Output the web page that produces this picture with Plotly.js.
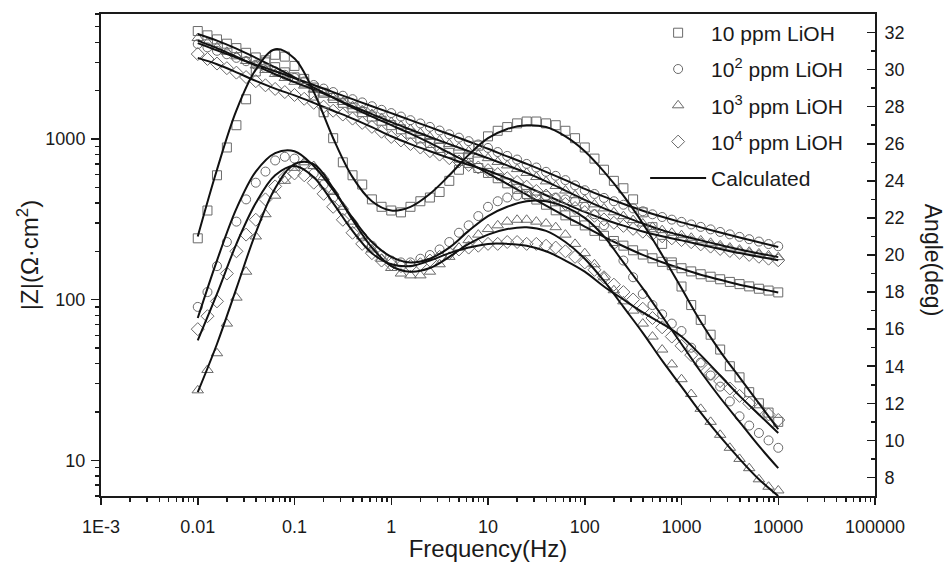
<!DOCTYPE html>
<html>
<head>
<meta charset="utf-8">
<script src="https://cdn.plot.ly/plotly-3.0.1.min.js"></script>
<style>html,body{margin:0;padding:0;background:#fff;}#chart{width:945px;height:562px;}</style>
</head>
<body>
<div id="chart"></div>
<script>
// ---- measured frequencies (Hz) ----
const freq = [0.01,0.0126,0.0158,0.02,0.0251,0.0316,0.0398,0.0501,0.0631,0.0794,
  0.1,0.126,0.158,0.2,0.251,0.316,0.398,0.501,0.631,0.794,
  1,1.26,1.58,2,2.51,3.16,3.98,5.01,6.31,7.94,
  10,12.6,15.8,20,25.1,31.6,39.8,50.1,63.1,79.4,
  100,126,158,200,251,316,398,501,631,794,
  1000,1260,1580,2000,2510,3160,3980,5010,6310,7940,10000];

// ---- |Z| (Ohm cm2), measured ----
const zMod10 = [4700,4420,4170,3920,3680,3440,3220,3000,2800,2600,
  2420,2250,2090,1940,1800,1680,1570,1470,1380,1300,
  1220,1150,1080,1010,945,880,820,765,710,660,
  615,570,530,490,455,420,390,360,335,310,
  290,268,250,232,217,203,191,181,172,164,
  157,150,144,139,134,129,125,121,117,114,111];
const zMod100 = [3900,3720,3540,3370,3200,3050,2900,2770,2640,2510,
  2400,2280,2170,2060,1960,1860,1770,1690,1600,1520,
  1450,1380,1310,1250,1190,1130,1070,1020,970,925,
  880,830,785,745,700,665,625,590,555,515,
  480,455,430,410,390,370,355,340,327,315,
  305,294,284,274,264,255,246,238,230,222,215];
const zMod1000 = [4250,3980,3730,3490,3270,3060,2870,2690,2540,2400,
  2270,2150,2030,1920,1810,1700,1600,1510,1430,1350,
  1275,1210,1150,1090,1030,980,930,885,840,800,
  760,720,685,650,615,580,545,510,478,447,
  418,392,370,350,331,313,298,284,271,261,
  252,243,234,226,218,211,205,199,194,189,184];
const zMod10000 = [3380,3150,2950,2760,2590,2430,2290,2160,2050,1960,
  1880,1780,1680,1590,1500,1420,1340,1260,1190,1110,
  1030,980,930,885,840,800,760,725,690,665,
  640,605,570,540,505,475,445,420,395,372,
  351,333,316,301,288,276,265,256,248,241,
  235,228,221,214,207,201,196,190,185,180,176];

// ---- phase angle (deg), measured ----
const ang10 = [20.9,22.4,24.3,25.8,27.0,28.4,29.9,30.5,30.8,30.7,
  30.2,29.5,28.6,27.7,26.3,25.0,24.3,23.8,23.0,22.6,
  22.4,22.3,22.6,22.9,23.1,23.4,24.0,24.6,25.3,25.9,
  26.4,26.7,26.9,27.1,27.2,27.2,27.1,27.0,26.7,26.3,
  25.8,25.2,24.6,24.0,23.6,23.0,22.3,21.5,20.6,19.6,
  18.3,17.3,16.5,15.7,14.9,14.0,13.4,12.6,12.0,11.5,11.0];
const ang100 = [17.2,18.0,19.4,20.7,21.8,23.0,23.9,24.5,25.1,25.3,
  25.2,24.9,24.4,23.8,23.1,22.4,21.7,21.0,20.5,20.0,
  19.7,19.6,19.6,19.8,20.0,20.3,20.7,21.2,21.6,22.1,
  22.6,22.9,23.1,23.2,23.2,23.2,23.2,23.1,23.0,22.9,
  22.6,22.2,21.6,20.6,19.7,18.8,17.9,17.3,16.8,16.3,
  15.9,15.0,14.2,13.5,12.9,12.1,11.3,10.8,10.4,10.0,9.6];
const ang1000 = [12.7,13.8,14.7,16.3,17.7,19.1,21.0,22.2,23.2,24.0,
  24.7,25.0,24.8,24.2,23.4,22.6,21.8,21.0,20.3,19.8,
  19.3,19.0,18.9,18.9,19.1,19.5,19.9,20.4,20.8,21.1,
  21.4,21.6,21.8,21.9,21.9,21.8,21.7,21.5,21.1,20.6,
  20.1,19.5,18.8,18.1,17.5,17.0,16.3,15.6,14.9,14.1,
  13.3,12.5,11.7,11.0,10.3,9.6,9.0,8.5,7.9,7.5,7.3];
const ang10000 = [16.0,16.7,17.5,19.0,20.2,21.1,21.9,23.0,23.7,24.2,
  24.4,24.3,23.9,23.3,22.6,21.9,21.2,20.6,20.1,19.7,
  19.5,19.4,19.4,19.5,19.7,19.9,20.1,20.3,20.4,20.5,
  20.6,20.6,20.7,20.7,20.6,20.6,20.5,20.4,20.2,19.9,
  19.6,19.2,18.8,18.4,18.0,17.6,17.1,16.6,16.1,15.6,
  15.1,14.6,14.1,13.6,13.2,12.8,12.4,12.0,11.7,11.4,11.1];

// ---- calculated (fitted) curves ----
const fitFreq = [0.01,0.0158,0.0251,0.0398,0.0631,0.1,0.158,0.251,0.398,0.631,
  1,1.58,2.51,3.98,6.31,10,15.8,25.1,39.8,63.1,
  100,158,251,398,631,1000,1580,2510,3980,6310,10000];
const zFit10 = [4500,4100,3650,3200,2790,2420,2090,1810,1570,1380,
  1220,1080,945,820,710,612,525,450,385,330,
  285,246,215,190,171,156,143,133,124,117,111];
const zFit100 = [3950,3560,3210,2900,2640,2390,2170,1960,1770,1600,
  1450,1310,1185,1070,965,870,780,700,625,555,
  490,438,395,358,328,303,282,262,244,228,213];
const zFit1000 = [4100,3680,3250,2860,2530,2260,2030,1810,1600,1430,
  1275,1145,1030,930,840,760,685,615,545,478,
  418,370,331,298,271,251,234,219,205,194,184];
const zFit10000 = [3200,2920,2600,2300,2060,1870,1680,1500,1340,1185,
  1040,930,840,760,690,635,570,505,447,396,
  352,317,289,266,248,234,220,207,195,185,176];
const aFit10 = [21.0,24.6,27.8,30.0,31.1,30.6,28.8,26.3,24.2,22.9,
  22.4,22.6,23.3,24.3,25.4,26.3,26.8,27.0,26.9,26.4,
  25.6,24.5,23.2,21.7,20.0,18.2,16.4,14.8,13.4,12.0,10.6];
const aFit100 = [16.6,19.7,22.5,24.5,25.5,25.6,24.8,23.5,22.0,20.7,
  19.9,19.6,19.8,20.4,21.3,22.1,22.6,22.9,22.9,22.6,
  22.0,21.0,19.6,18.2,16.7,15.2,13.7,12.3,11.0,9.7,8.5];
const aFit1000 = [12.6,15.2,18.2,21.2,23.6,24.9,24.9,23.6,21.9,20.4,
  19.4,19.1,19.3,19.9,20.6,21.1,21.4,21.5,21.3,20.7,
  19.8,18.6,17.2,15.8,14.3,12.9,11.5,10.2,9.0,7.9,7.0];
const aFit10000 = [15.4,17.9,20.6,22.8,24.3,24.8,24.2,22.8,21.3,20.1,
  19.5,19.4,19.7,20.1,20.4,20.6,20.6,20.5,20.2,19.7,
  19.1,18.3,17.6,16.9,16.3,15.6,14.6,13.5,12.4,11.4,10.4];

// ---- labels ----
const seriesNames = ['10 ppm LiOH','10<sup>2</sup> ppm LiOH','10<sup>3</sup> ppm LiOH','10<sup>4</sup> ppm LiOH'];
const fitName = 'Calculated';
const xTickVals = [0.001,0.01,0.1,1,10,100,1000,10000,100000];
const xTickText = ['1E-3','0.01','0.1','1','10','100','1000','10000','100000'];
const yTickVals = [10,100,1000];
const yTickText = ['10','100','1000'];
const xTitle = 'Frequency(Hz)';
const yTitle = '|Z|(\u03A9\u00B7cm<sup>2</sup>)';
const y2Title = 'Angle(deg)';

// ---- build ----
const symbols = ['square-open','circle-open','triangle-up-open','diamond-open'];
const markerSizes = [9,9,10,10];
const mColor = '#6a6a6a';
const zData = [zMod10, zMod100, zMod1000, zMod10000];
const aData = [ang10, ang100, ang1000, ang10000];
const zFits = [zFit10, zFit100, zFit1000, zFit10000];
const aFits = [aFit10, aFit100, aFit1000, aFit10000];

const traces = [];
for (let i = 0; i < 4; i++) {
  traces.push({x: freq, y: zData[i], type:'scatter', mode:'markers', name: seriesNames[i],
    legendgroup:'g'+i, legendrank: i+1, showlegend:true, yaxis:'y',
    marker:{symbol:symbols[i], size:markerSizes[i], color:mColor, line:{width:1, color:mColor}}});
  traces.push({x: freq, y: aData[i], type:'scatter', mode:'markers', name: seriesNames[i],
    legendgroup:'g'+i, showlegend:false, yaxis:'y2',
    marker:{symbol:symbols[i], size:markerSizes[i], color:mColor, line:{width:1, color:mColor}}});
}
for (let i = 0; i < 4; i++) {
  traces.push({x: fitFreq, y: zFits[i], type:'scatter', mode:'lines', name: fitName,
    legendgroup:'fit', legendrank: 5, showlegend: i === 0, yaxis:'y',
    line:{color:'#111', width:2, shape:'spline', smoothing:1}});
  traces.push({x: fitFreq, y: aFits[i], type:'scatter', mode:'lines', name: fitName,
    legendgroup:'fit', showlegend:false, yaxis:'y2',
    line:{color:'#111', width:2, shape:'spline', smoothing:1}});
}

const xMinor = [];
for (let d = -3; d < 5; d++) for (let k = 2; k <= 9; k++) xMinor.push(k * Math.pow(10, d));
const yMinor = [];
for (let d = 0; d < 4; d++) for (let k = 2; k <= 9; k++) { const v = k * Math.pow(10, d); if (v >= 6 && v <= 6000) yMinor.push(v); }

const axisColor = '#1a1a1a';
const layout = {
  width: 945, height: 562,
  margin: {l:101, r:70, t:14, b:66, pad:0},
  paper_bgcolor:'#fff', plot_bgcolor:'#fff',
  font: {family:'"Liberation Sans", Arial, sans-serif', color:'#1a1a1a', size:18},
  showlegend: true,
  xaxis: {type:'log', range:[-3,5], tickmode:'array', tickvals:xTickVals, ticktext:xTickText,
    ticks:'outside', ticklen:7, tickwidth:1.5, tickcolor:axisColor, ticklabelstandoff:6,
    showline:true, linecolor:axisColor, linewidth:2, mirror:true, showgrid:false, zeroline:false,
    tickfont:{size:18},
    title:{text:xTitle, font:{size:24}, standoff:6},
    minor:{tickmode:'array', tickvals:xMinor, ticks:'outside', ticklen:4, tickwidth:1.5, tickcolor:axisColor, showgrid:false}},
  yaxis: {type:'log', range:[Math.log10(6), Math.log10(6000)], tickmode:'array', tickvals:yTickVals, ticktext:yTickText,
    ticks:'outside', ticklen:8, tickwidth:1.5, tickcolor:axisColor, ticklabelstandoff:2,
    showline:true, linecolor:axisColor, linewidth:2, showgrid:false, zeroline:false,
    tickfont:{size:18},
    title:{text:yTitle, font:{size:24}, standoff:0},
    minor:{tickmode:'array', tickvals:yMinor, ticks:'outside', ticklen:4, tickwidth:1.5, tickcolor:axisColor, showgrid:false}},
  yaxis2: {overlaying:'y', side:'right', range:[7,33], tick0:8, dtick:2,
    ticks:'inside', ticklen:8, tickwidth:1.5, tickcolor:axisColor, ticklabelstandoff:4,
    showline:true, linecolor:axisColor, linewidth:2, showgrid:false, zeroline:false,
    tickfont:{size:18},
    minor:{tick0:7, dtick:1, ticks:'inside', ticklen:4, tickwidth:1.5, tickcolor:axisColor, showgrid:false}},
  legend: {x:0.703, y:1.003, xanchor:'left', yanchor:'top', bgcolor:'rgba(0,0,0,0)',
    font:{size:21}, itemwidth:56, tracegroupgap:6, traceorder:'grouped'},
  annotations: [{text:y2Title, xref:'paper', yref:'paper', x:1.075, y:0.49, showarrow:false,
    textangle:90, font:{size:23}, xanchor:'center', yanchor:'middle'}]
};

Plotly.newPlot('chart', traces, layout, {displayModeBar:false, staticPlot:true});
</script>
</body>
</html>
